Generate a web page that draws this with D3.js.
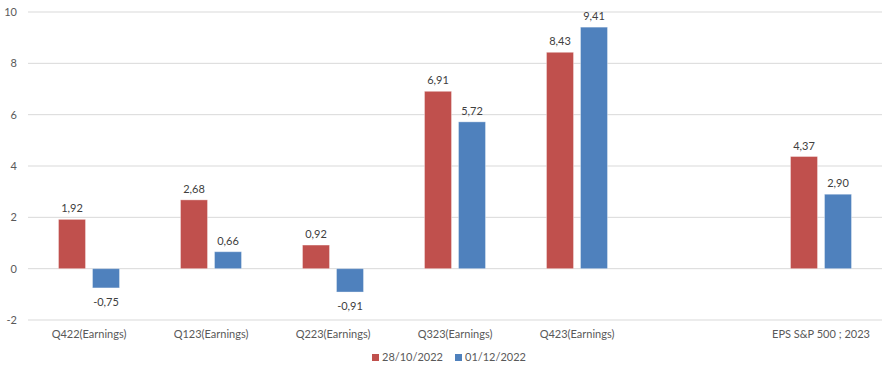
<!DOCTYPE html>
<html><head><meta charset="utf-8">
<script src="https://cdn.jsdelivr.net/npm/d3@7"></script>
<style>body{margin:0;background:#fff;} text{font-family:Lato,"Open Sans",sans-serif;}</style>
</head><body><svg id="c" width="888" height="375"></svg>
<script>
const categories = ["Q422(Earnings)","Q123(Earnings)","Q223(Earnings)","Q323(Earnings)","Q423(Earnings)","","EPS S&P 500 ; 2023"];
const seriesNames = ["28/10/2022","01/12/2022"];
const s1 = [1.92, 2.68, 0.92, 6.91, 8.43, null, 4.37];
const s2 = [-0.75, 0.66, -0.91, 5.72, 9.41, null, 2.90];
const yTicks = [-2,0,2,4,6,8,10];
const colors = ["#C0504D","#4F81BD"];

const svg = d3.select("#c");
const x = d3.scaleBand().domain(d3.range(categories.length)).range([28,882]);
const y = d3.scaleLinear().domain([-2,10]).range([320,12]);
const bw = 27, gap = 7;
const fmt = v => v.toFixed(2).replace(".", ",");

svg.append("g").selectAll("line").data(yTicks).join("line")
  .attr("x1",28).attr("x2",882).attr("y1",d=>y(d)).attr("y2",d=>y(d))
  .attr("stroke","#d9d9d9").attr("stroke-width",1);
svg.append("g").selectAll("text").data(yTicks).join("text")
  .attr("x",17).attr("y",d=>y(d)+4).attr("text-anchor","end")
  .attr("font-size",11).attr("fill","#595959").text(d=>d);

[s1,s2].forEach((s,si)=>{
  const g = svg.append("g");
  const data = s.map((v,i)=>({v,i})).filter(d=>d.v!==null);
  const bx = d => x(d.i)+x.bandwidth()/2 + (si===0 ? -gap/2-bw : gap/2);
  g.selectAll("rect").data(data).join("rect")
    .attr("x",bx).attr("width",bw)
    .attr("y",d=>Math.min(y(d.v),y(0))).attr("height",d=>Math.abs(y(d.v)-y(0)))
    .attr("fill",colors[si]).attr("stroke","#fff").attr("stroke-opacity",0.35).attr("stroke-width",1);
  g.selectAll("text").data(data).join("text")
    .attr("x",d=>bx(d)+bw/2).attr("text-anchor","middle")
    .attr("y",d=> d.v>=0 ? y(d.v)-7 : y(d.v)+18)
    .attr("font-size",11).attr("fill","#404040").text(d=>fmt(d.v));
});

svg.append("g").selectAll("text").data(categories).join("text")
  .attr("x",(d,i)=>x(i)+x.bandwidth()/2).attr("y",338).attr("text-anchor","middle")
  .attr("font-size",11).attr("fill","#595959").text(d=>d);

const lg = svg.append("g");
const lx = [372, 455];
seriesNames.forEach((n,i)=>{
  lg.append("rect").attr("x",lx[i]).attr("y",354).attr("width",7).attr("height",7).attr("fill",colors[i]);
  lg.append("text").attr("x",lx[i]+10).attr("y",361).attr("font-size",11).attr("fill","#595959").text(n);
});
</script></body></html>
